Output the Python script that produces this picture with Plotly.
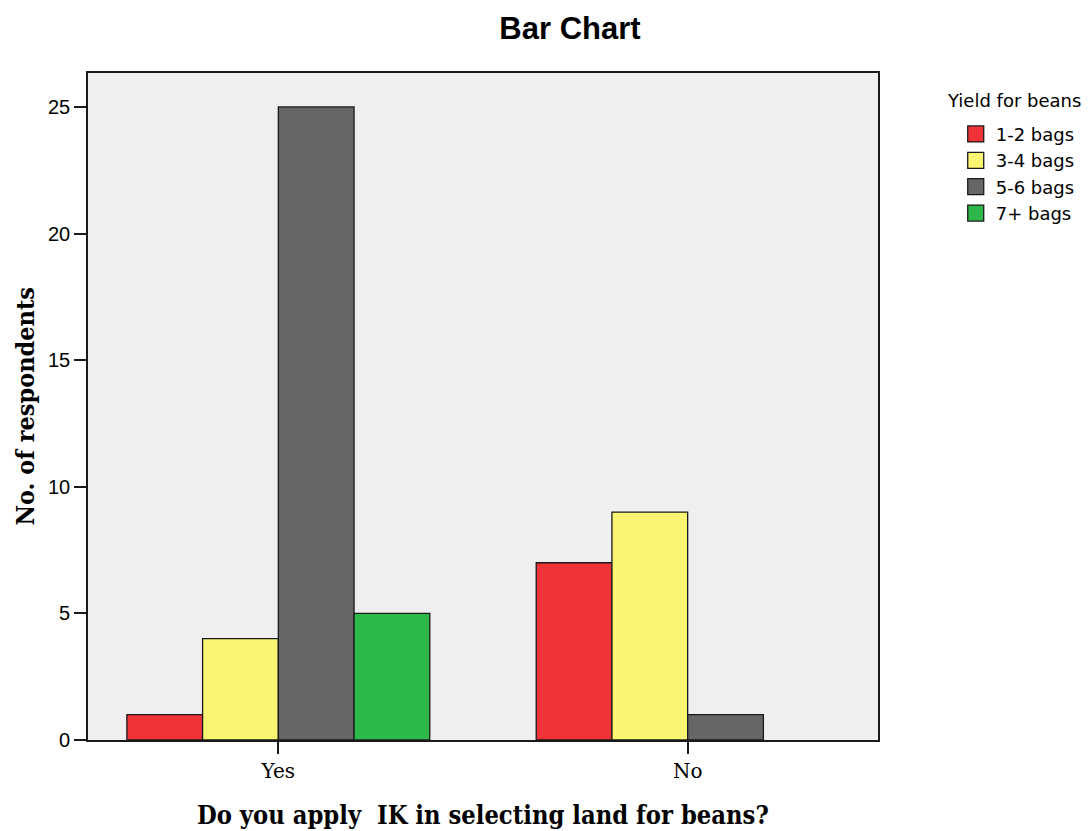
import plotly.graph_objects as go

categories = ["Yes", "No"]
series_names = ["1-2 bags", "3-4 bags", "5-6 bags", "7+ bags"]
values_12 = [1, 7]
values_34 = [4, 9]
values_56 = [25, 1]
values_7p = [5, None]
colors = ["#EF3339", "#FAF673", "#666666", "#2DB84A"]
y_ticks = [0, 5, 10, 15, 20, 25]

all_values = [values_12, values_34, values_56, values_7p]

fig = go.Figure()
for name, vals, col in zip(series_names, all_values, colors):
    fig.add_trace(go.Bar(
        x=categories, y=vals, name=name, showlegend=False,
        marker=dict(color=col, line=dict(color="#1a1a1a", width=1.3)),
    ))
# legend-only entries (larger square swatches)
for name, col in zip(series_names, colors):
    fig.add_trace(go.Scatter(
        x=[None], y=[None], name=name, mode="markers",
        marker=dict(symbol="square", size=16, color=col, line=dict(color="#1a1a1a", width=1.3)),
    ))

serif = "DejaVu Serif Condensed, DejaVu Serif, serif"
serif_tick = "DejaVu Serif, serif"
sans = "Liberation Sans, Arial, sans-serif"
legend_font = "DejaVu Sans, sans-serif"

W, H = 1083, 823  # page has an 8px body margin

fig.update_layout(
    width=W, height=H,
    margin=dict(l=80, r=212, t=65, b=91),
    paper_bgcolor="white",
    plot_bgcolor="#EFEFEF",
    barmode="group",
    bargap=0.26,
    bargroupgap=0,
    showlegend=True,
    title=dict(text="<b>Bar Chart</b>", x=562 / W, xanchor="center", y=1 - 20 / H, yanchor="middle",
               font=dict(family=sans, size=31, color="black")),
    legend=dict(
        font=dict(family=legend_font, size=18, color="black"),
        x=1.097, xanchor="left", y=0.936, yanchor="top",
        tracegroupgap=0, itemwidth=30, itemsizing="trace",
        bgcolor="rgba(0,0,0,0)",
    ),
    xaxis=dict(
        range=[-0.465, 1.465],
        showline=True, linecolor="#1a1a1a", linewidth=1.6, mirror=True,
        ticks="outside", ticklen=12, tickcolor="#1a1a1a", tickwidth=1.6,
        tickfont=dict(family=serif_tick, size=20, color="black"),
        showgrid=False, zeroline=False,
    ),
    yaxis=dict(
        range=[0, 26.34],
        tickvals=y_ticks,
        showline=True, linecolor="#1a1a1a", linewidth=1.6, mirror=True,
        ticks="outside", ticklen=12, tickcolor="#1a1a1a", tickwidth=1.6,
        tickfont=dict(family=sans, size=20, color="black"),
        showgrid=False, zeroline=False,
    ),
    annotations=[
        dict(text="<b>No. of respondents</b>", xref="paper", yref="paper",
             x=-0.0796, y=0.5, xanchor="center", yanchor="middle", textangle=-90,
             showarrow=False, font=dict(family=serif, size=25, color="black")),
        dict(text="<b>Do you apply  IK in selecting land for beans?</b>", xref="paper", yref="paper",
             x=0.5, y=-0.1124, xanchor="center", yanchor="middle",
             showarrow=False, font=dict(family=serif, size=25.3, color="black")),
        dict(text="Yield for beans", xref="paper", yref="paper",
             x=(938 - 80) / 791, y=(732 - 92) / 667, xanchor="left", yanchor="middle",
             showarrow=False, font=dict(family=legend_font, size=18, color="black")),
    ],
)

fig.write_html("out.html")
